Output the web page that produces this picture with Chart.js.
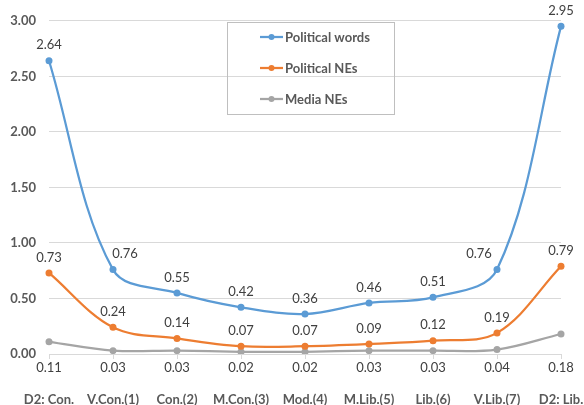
<!DOCTYPE html>
<html>
<head>
<meta charset="utf-8">
<script src="https://cdn.jsdelivr.net/npm/chart.js@4.4.1/dist/chart.umd.min.js"></script>
<style>
  html, body { margin: 0; padding: 0; background: #fff; }
  #wrap { width: 584px; height: 405px; }
</style>
</head>
<body>
<div id="wrap"><canvas id="chart" width="584" height="405"></canvas></div>
<script>
const categories = ["D2: Con.", "V.Con.(1)", "Con.(2)", "M.Con.(3)", "Mod.(4)", "M.Lib.(5)", "Lib.(6)", "V.Lib.(7)", "D2: Lib."];
const politicalWords = [2.64, 0.76, 0.55, 0.42, 0.36, 0.46, 0.51, 0.76, 2.95];
const politicalNEs = [0.73, 0.24, 0.14, 0.07, 0.07, 0.09, 0.12, 0.19, 0.79];
const mediaNEs = [0.11, 0.03, 0.03, 0.02, 0.02, 0.03, 0.03, 0.04, 0.18];
const yTicks = [0, 0.5, 1, 1.5, 2, 2.5, 3];

const FONT = "Lato, 'Open Sans', sans-serif";
const textGray = "#595959";

// labels above points; media labels sit under the axis
const valueLabels = {
  id: "valueLabels",
  afterDatasetsDraw(chart) {
    const ctx = chart.ctx;
    ctx.save();
    ctx.font = "13px " + FONT;
    ctx.fillStyle = "#404040";
    ctx.textAlign = "center";
    ctx.textBaseline = "middle";
    chart.data.datasets.forEach((ds, i) => {
      const meta = chart.getDatasetMeta(i);
      meta.data.forEach((pt, j) => {
        const txt = ds.data[j].toFixed(2);
        if (i === 2) {
          ctx.fillText(txt, pt.x, chart.chartArea.bottom + 14);
          return;
        }
        let dx = 0;
        if (i === 0 && j === 1) dx = 12;
        if (i === 0 && j === 7) dx = -18;
        ctx.fillText(txt, pt.x + dx, pt.y - 15.5);
      });
    });
    ctx.restore();
  }
};

const boxLegend = {
  id: "boxLegend",
  afterDraw(chart) {
    const ctx = chart.ctx;
    ctx.save();
    ctx.strokeStyle = "#BFBFBF";
    ctx.lineWidth = 1;
    ctx.strokeRect(227.5, 22.5, 167, 92);
    ctx.font = "bold 13px " + FONT;
    ctx.textBaseline = "middle";
    ctx.textAlign = "left";
    chart.data.datasets.forEach((ds, i) => {
      const y = 37 + i * 31;
      ctx.strokeStyle = ds.borderColor;
      ctx.lineWidth = 2.25;
      ctx.beginPath();
      ctx.moveTo(260, y);
      ctx.lineTo(283, y);
      ctx.stroke();
      ctx.fillStyle = ds.borderColor;
      ctx.beginPath();
      ctx.arc(271.5, y, 3, 0, Math.PI * 2);
      ctx.fill();
      ctx.fillStyle = textGray;
      ctx.fillText(ds.label, 285, y + 1);
    });
    ctx.restore();
  }
};

const series = [
  ["Political words", politicalWords, "#5B9BD5"],
  ["Political NEs", politicalNEs, "#ED7D31"],
  ["Media NEs", mediaNEs, "#A5A5A5"]
];

new Chart(document.getElementById("chart"), {
  type: "line",
  data: {
    labels: categories,
    datasets: series.map(([label, data, color]) => ({
      label: label,
      data: data,
      borderColor: color,
      backgroundColor: color,
      borderWidth: 2.25,
      pointRadius: 3.5,
      pointBorderWidth: 0,
      tension: 0.35
    }))
  },
  options: {
    responsive: false,
    animation: false,
    layout: { padding: { top: 19, right: 23, left: 0, bottom: 0 } },
    plugins: { legend: { display: false }, tooltip: { enabled: false } },
    scales: {
      x: {
        offset: false,
        grid: { drawOnChartArea: false, drawTicks: true, tickLength: 5, color: "#D9D9D9" },
        border: { color: "#D9D9D9" },
        ticks: {
          padding: 33,
          maxRotation: 0,
          autoSkip: false,
          color: textGray,
          font: { family: FONT, size: 13, weight: "bold" }
        },
        afterFit(scale) {
          scale.height = 51;
          scale.paddingLeft = 0;
          scale.paddingRight = 0;
        }
      },
      y: {
        min: 0,
        max: 3,
        afterBuildTicks(scale) { scale.ticks = yTicks.map(v => ({ value: v })); },
        grid: { color: "#D9D9D9", drawTicks: false },
        border: { display: false },
        ticks: {
          padding: 13,
          color: textGray,
          font: { family: FONT, size: 13, weight: "bold" },
          callback: v => v.toFixed(2)
        },
        afterFit(scale) { scale.width = 49; }
      }
    }
  },
  plugins: [valueLabels, boxLegend]
});
</script>
</body>
</html>
